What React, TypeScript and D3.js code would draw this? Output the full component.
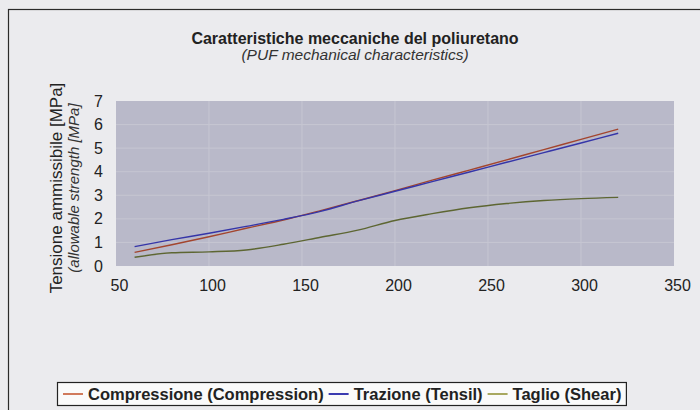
import React, { useEffect, useRef } from "react";
import * as d3 from "d3";

// values
const loads = [60, 80, 100, 120, 140, 160, 180, 200, 220, 240, 260, 280, 300, 320];
const compression = [0.58, 0.9, 1.24, 1.6, 1.95, 2.35, 2.77, 3.2, 3.64, 4.07, 4.5, 4.94, 5.37, 5.81];
const tensile = [0.82, 1.12, 1.39, 1.68, 1.98, 2.32, 2.76, 3.17, 3.58, 3.99, 4.4, 4.81, 5.22, 5.63];
const shear = [0.37, 0.56, 0.6, 0.68, 0.92, 1.22, 1.52, 1.93, 2.22, 2.47, 2.65, 2.78, 2.86, 2.91];
const xTicks = [50, 100, 150, 200, 250, 300, 350];
const yTicks = [0, 1, 2, 3, 4, 5, 6, 7];
const seriesNames = ["Compressione (Compression)", "Trazione (Tensil)", "Taglio (Shear)"];

const FONT = "'Liberation Sans', Arial, sans-serif";

const App = () => {
  const chartRef = useRef<SVGSVGElement>(null);

  useEffect(() => {
    const svg = d3.select(chartRef.current);
    svg.selectAll("*").remove();

    // page background + frame
    svg.append("rect").attr("width", 700).attr("height", 410).attr("fill", "#ebebee");
    svg.append("rect")
      .attr("x", 8.5).attr("y", 9.5)
      .attr("width", 720).attr("height", 420)
      .attr("fill", "none").attr("stroke", "#2a2a2a").attr("stroke-width", 1.2);

    const x = d3.scaleLinear().domain([50, 350]).range([116, 674]);
    const y = d3.scaleLinear().domain([0, 7]).range([266, 101]);

    // plot area
    svg.append("rect")
      .attr("x", x(50)).attr("y", y(7))
      .attr("width", x(350) - x(50)).attr("height", y(0) - y(7))
      .attr("fill", "#b9b9c9");

    // grid
    const grid = svg.append("g").attr("stroke", "#c6c6d2").attr("stroke-width", 1);
    grid.selectAll(".gx").data(xTicks.slice(1, -1)).enter().append("line")
      .attr("x1", d => x(d)).attr("x2", d => x(d))
      .attr("y1", y(0)).attr("y2", y(7));
    grid.selectAll(".gy").data(yTicks.slice(1, -1)).enter().append("line")
      .attr("x1", x(50)).attr("x2", x(350))
      .attr("y1", d => y(d)).attr("y2", d => y(d));

    // axes (labels only, no lines)
    const xAxis = svg.append("g")
      .attr("transform", `translate(0, ${y(0)})`)
      .call(d3.axisBottom(x).tickValues(xTicks).tickSize(0).tickPadding(14));
    xAxis.select(".domain").remove();
    xAxis.selectAll("text")
      .attr("font-family", FONT).attr("font-size", 16).attr("fill", "#222").attr("dx", 3);

    const yAxis = svg.append("g")
      .attr("transform", `translate(${x(50)}, 0)`)
      .call(d3.axisLeft(y).tickValues(yTicks).tickFormat(d3.format("d")).tickSize(0).tickPadding(13));
    yAxis.select(".domain").remove();
    yAxis.selectAll("text")
      .attr("font-family", FONT).attr("font-size", 16).attr("fill", "#222");

    // lines
    const series = [
      { values: compression, color: "#a3452e", swatch: "#d07a5c" },
      { values: tensile, color: "#3535a8", swatch: "#3a3ab0" },
      { values: shear, color: "#5d6632", swatch: "#a8a860" },
    ];
    const line = d3.line<number>()
      .x((_, i) => x(loads[i]))
      .y(d => y(d))
      .curve(d3.curveMonotoneX);
    series.forEach(s => {
      svg.append("path")
        .attr("d", line(s.values))
        .attr("fill", "none")
        .attr("stroke", s.color)
        .attr("stroke-width", 1.4);
    });

    // titles
    svg.append("text")
      .attr("x", 355).attr("y", 44)
      .attr("text-anchor", "middle")
      .attr("font-family", FONT).attr("font-size", 16).attr("font-weight", "bold")
      .attr("fill", "#222")
      .text("Caratteristiche meccaniche del poliuretano");
    svg.append("text")
      .attr("x", 355).attr("y", 60)
      .attr("text-anchor", "middle")
      .attr("font-family", FONT).attr("font-size", 15.5).attr("font-style", "italic")
      .attr("fill", "#333")
      .text("(PUF mechanical characteristics)");

    svg.append("text")
      .attr("transform", "translate(62, 188) rotate(-90)")
      .attr("text-anchor", "middle")
      .attr("font-family", FONT).attr("font-size", 17)
      .attr("fill", "#222")
      .text("Tensione ammissibile [MPa]");
    svg.append("text")
      .attr("transform", "translate(79, 188) rotate(-90)")
      .attr("text-anchor", "middle")
      .attr("font-family", FONT).attr("font-size", 15).attr("font-style", "italic")
      .attr("fill", "#333")
      .text("(allowable strength [MPa]");

    // legend
    const legend = svg.append("g");
    const box = legend.append("rect")
      .attr("x", 57.5).attr("y", 382.5).attr("height", 23)
      .attr("fill", "#fafafa").attr("stroke", "#222").attr("stroke-width", 1.2);
    let cx = 63;
    series.forEach((s, i) => {
      legend.append("line")
        .attr("x1", cx).attr("x2", cx + 20)
        .attr("y1", 394).attr("y2", 394)
        .attr("stroke", s.swatch).attr("stroke-width", 2);
      const t = legend.append("text")
        .attr("x", cx + 25).attr("y", 400)
        .attr("font-family", FONT).attr("font-size", 16.5).attr("font-weight", "bold")
        .attr("fill", "#222")
        .text(seriesNames[i]);
      const w = (t.node() as SVGTextElement).getComputedTextLength();
      cx = cx + 25 + w + 5;
    });
    box.attr("width", cx - 57.5);
  }, []);

  return (
    <svg
      ref={chartRef}
      width={700}
      height={410}
      style={{ position: "absolute", left: 0, top: 0 }}
    />
  );
};

export default App;
